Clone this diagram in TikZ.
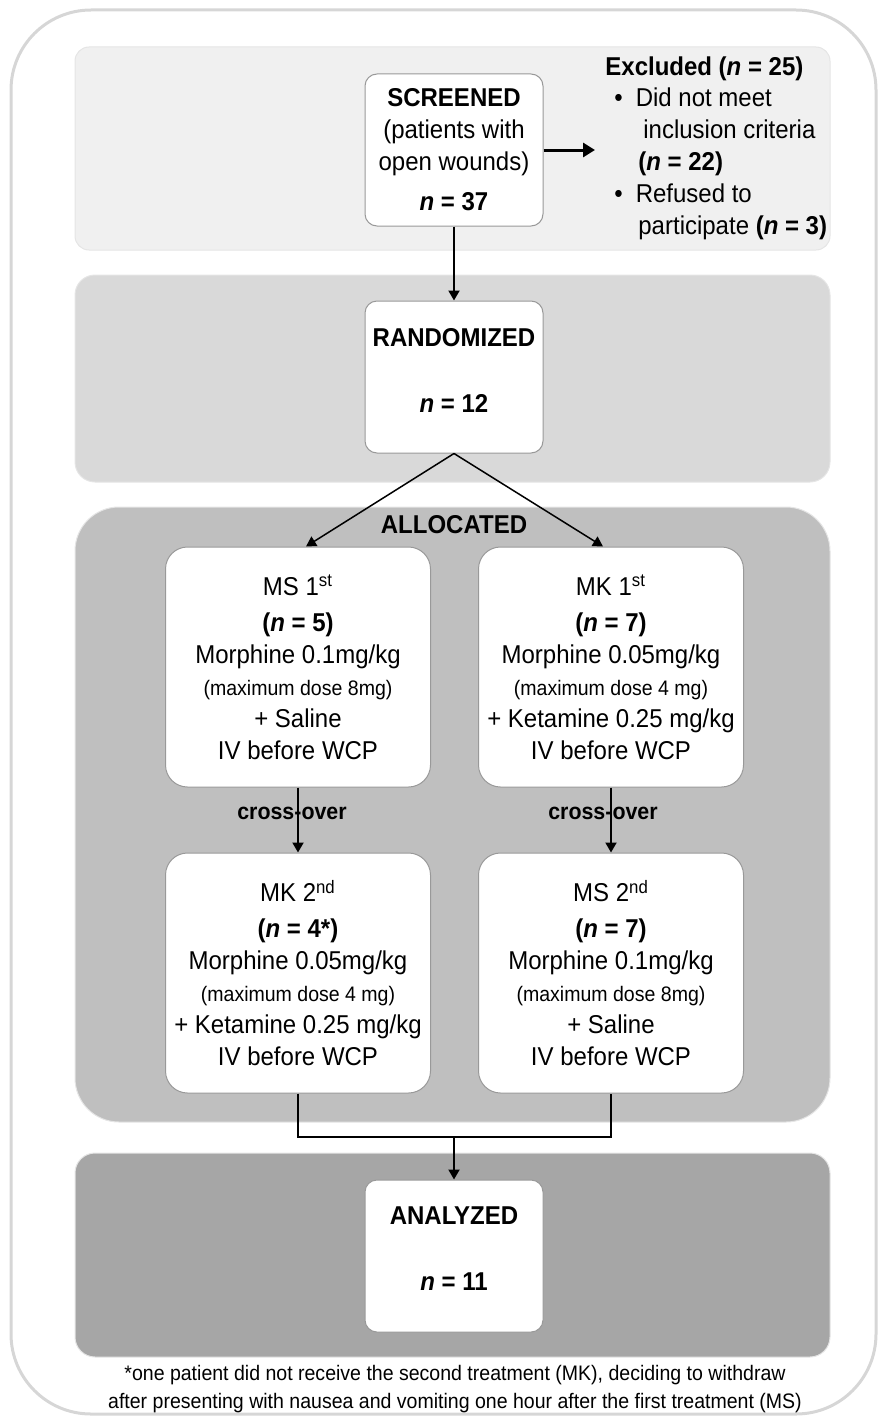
\documentclass[tikz,border=0pt]{standalone}
\usepackage{fontspec}
\setmainfont{Liberation Sans}[FakeStretch=0.93]
\usetikzlibrary{
  arrows.meta,
  positioning,  % Function "of" (e.g. [right=of x])
  calc,         % Calculations $...$
}
\def\mysize{\fontsize{12.9}{16}\selectfont}
\def\mysmall{\fontsize{10.5}{12}\selectfont}
\newcommand{\nn}  [1]{\textbf{\textit{n} = #1}}
\newcommand{\pn}  [1]{\textbf{(\textit{n} = #1)}}
\newcommand{\lowstrut}{\rule[-7pt]{0pt}{7pt}}
\tikzset{
  x=0.5pt,
  y=-0.5pt,
  >={Triangle[length=5pt,width=5.5pt]},
  my frame/.style={
    draw=black!16,
    line width=1.5pt,
    rounded corners=40pt
  },
  my band/.style={
    draw=black!10,
    line width=0.5pt,
    rounded corners=#1
  },
  my phase/.style={
    draw=black!40,
    fill=white,
    line width=0.5pt,
    rounded corners=6pt,
    minimum width=89pt,
    minimum height=76pt,
    inner sep=0pt,
    align=center,
    font=\mysize
  },
  my arm/.style={
    my phase,
    rounded corners=11pt,
    minimum width=132.5pt,
    minimum height=120pt
  },
  my link/.style={
    line width=1pt
  },
  my thin link/.style={
    line width=0.75pt
  },
  my cross/.style={
    font=\fontsize{11.5}{12}\selectfont\bfseries,
    inner sep=0pt
  }
}
\begin{document}
\begin{tikzpicture}
\useasboundingbox (0,0) rectangle (883,1418);
% frame and phase bands
\draw[my frame] (11,10) rectangle (876,1414);
\draw[my band=7pt,fill=black!6]   (75,47)   rectangle (830,250);
\draw[my band=10pt,fill=black!15] (75,275)  rectangle (830,482);
\draw[my band=22pt,fill=black!25] (75,507)  rectangle (830,1122);
\draw[my band=10pt,fill=black!35] (75,1153) rectangle (830,1357);

\node (scr)  [my phase] at (454,150)  {\textbf{SCREENED}\\(patients with\\open wounds)\\[4pt]\nn{37}};
\node (rand) [my phase] at (454,377)  {\textbf{RANDOMIZED}\\[17pt]\nn{12}\lowstrut};
\node (ana)  [my phase] at (454,1256) {\textbf{ANALYZED}\\[17pt]\nn{11}\lowstrut};
\node (excl) [anchor=west,inner sep=0pt,align=left,font=\fontsize{12.9}{15.9}\selectfont] at (605,148)
  {\textbf{Excluded (\textit{n} = 25)}\\
   \hspace*{4.5pt}\textbullet\hspace*{6.5pt}Did not meet\\
   \hspace*{19pt}inclusion criteria\\
   \hspace*{16.5pt}\pn{22}\\
   \hspace*{4.5pt}\textbullet\hspace*{6.5pt}Refused to\\
   \hspace*{16.5pt}participate \pn{3}};

\node (alloc) [font=\mysize\bfseries] at (454,525) {ALLOCATED};
\node (ms1) [my arm] at (298,667) {MS 1\textsuperscript{st}\\[2pt]\pn{5}\\Morphine 0.1mg/kg\\{\mysmall(maximum dose 8mg)}\\+ Saline\\IV before WCP};
\node (mk1) [my arm] at (611,667) {MK 1\textsuperscript{st}\\[2pt]\pn{7}\\Morphine 0.05mg/kg\\{\mysmall(maximum dose 4 mg)}\\+ Ketamine 0.25 mg/kg\\IV before WCP};
\node (mk2) [my arm] at (298,973) {MK 2\textsuperscript{nd}\\[2pt]\pn{4*}\\Morphine 0.05mg/kg\\{\mysmall(maximum dose 4 mg)}\\+ Ketamine 0.25 mg/kg\\IV before WCP};
\node (ms2) [my arm] at (611,973) {MS 2\textsuperscript{nd}\\[2pt]\pn{7}\\Morphine 0.1mg/kg\\{\mysmall(maximum dose 8mg)}\\+ Saline\\IV before WCP};

\node (note) [font=\fontsize{10.5}{14}\selectfont,align=center] at (455,1389)
  {*one patient did not receive the second treatment (MK), deciding to withdraw\\
   after presenting with nausea and vomiting one hour after the first treatment (MS)};

% connectors
\draw[->,line width=1.5pt,>={Triangle[length=6pt,width=7pt]},shorten >=5pt] (scr.east) -- (scr.east -| excl.west);
\draw[->,my link] (scr) -- (rand);
\draw[->,my thin link] (rand.south) -- ([xshift=4pt]ms1.north);
\draw[->,my thin link] (rand.south) -- ([xshift=-4pt]mk1.north);
\draw[->,my link] (ms1) -- node[my cross,pos=0.4,xshift=-3pt] (cx1) {cross-over} (mk2);
\draw[->,my link] (mk1) -- node[my cross,pos=0.4,xshift=-4pt] (cx2) {cross-over} (ms2);
\coordinate (join) at (454,1137);
\draw[my link] (mk2.south) |- (join) -| (ms2.south);
\draw[->,my link] (join) -- (ana);
\end{tikzpicture}
\end{document}
